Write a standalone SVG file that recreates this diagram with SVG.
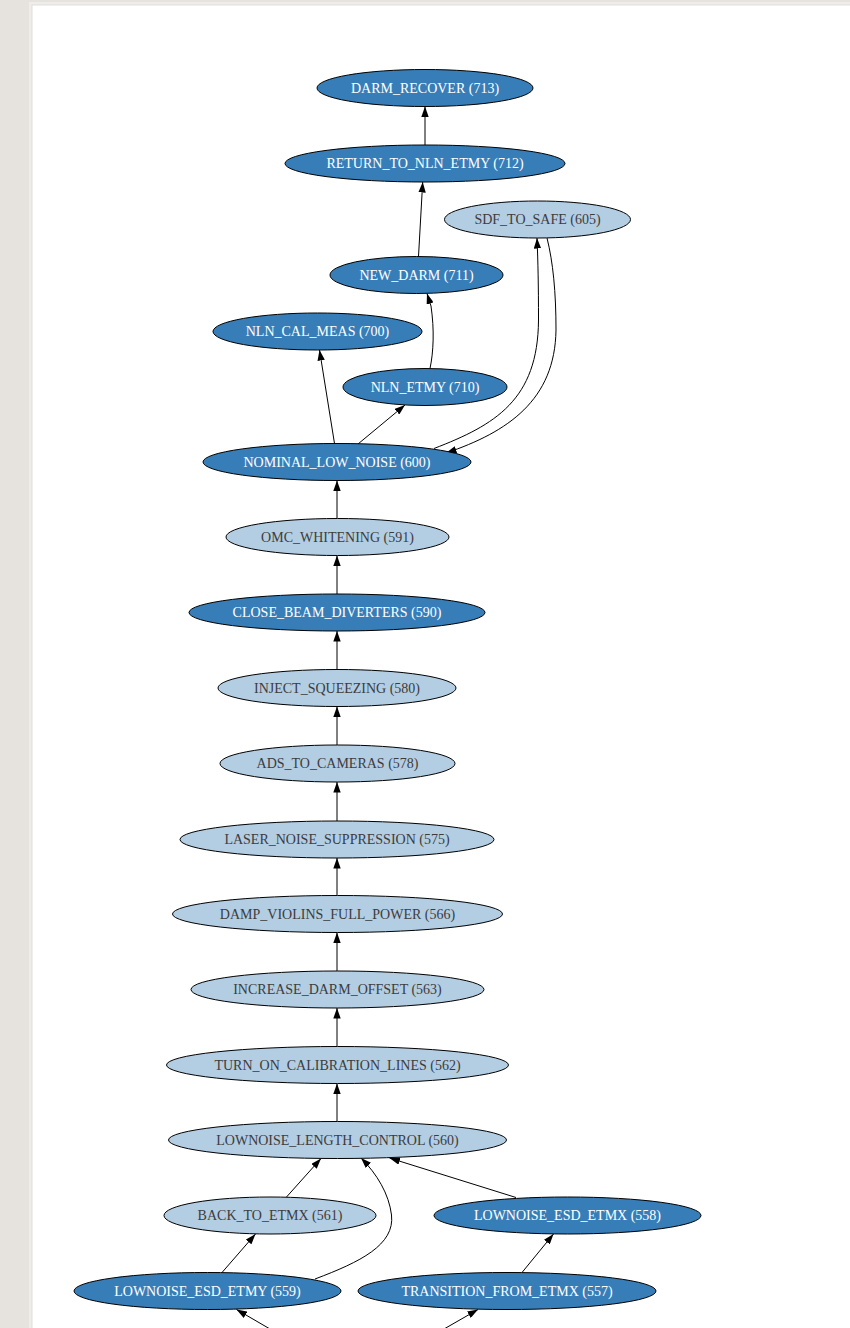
<svg xmlns="http://www.w3.org/2000/svg" width="850" height="1328" viewBox="0 0 850 1328">
<defs>
<style>
.dk{fill:#377eb8;stroke:#000;stroke-width:1}
.lt{fill:#b3cde3;stroke:#000;stroke-width:1}
.tw{font-family:"Liberation Serif","Times New Roman",serif;font-size:14px;fill:#ffffff;text-anchor:middle}
.tg{font-family:"Liberation Serif","Times New Roman",serif;font-size:14px;fill:#3c3c3c;text-anchor:middle}
.e{fill:none;stroke:#000;stroke-width:1}
</style>
<marker id="arr" viewBox="0 0 10.5 7.4" refX="10.5" refY="3.7" markerWidth="10.5" markerHeight="7.4" markerUnits="userSpaceOnUse" orient="auto">
<path d="M0,0 L10.5,3.7 L0,7.4 z" fill="#000"/>
</marker>
</defs>
<rect x="0" y="0" width="850" height="1328" fill="#e6e3df"/>
<rect x="29" y="2" width="830" height="1340" fill="#efedea"/>
<rect x="32" y="5" width="830" height="1340" fill="#ffffff" stroke="#e0dedb" stroke-width="1"/>

<g id="connectors">
<path class="e" marker-end="url(#arr)" d="M425,145 L425,106.5"/>
<path class="e" marker-end="url(#arr)" d="M418.5,256.5 L422.7,182"/>
<path class="e" marker-end="url(#arr)" d="M430,368.5 C433.5,352 434.5,330 431,306 L427,293.5"/>
<path class="e" marker-end="url(#arr)" d="M334.5,443.5 L319.5,350"/>
<path class="e" marker-end="url(#arr)" d="M358,444 L405,405"/>
<path class="e" marker-end="url(#arr)" d="M434,448.5 C495,425 538,400 538.5,320 C538.5,285 538,262 537,238"/>
<path class="e" marker-end="url(#arr)" d="M547,238 C553,262 556,292 556,330 C555,400 508,432 446,453"/>
<path class="e" marker-end="url(#arr)" d="M337,518.5 L337,480.5"/>
<path class="e" marker-end="url(#arr)" d="M337,594 L337,555.5"/>
<path class="e" marker-end="url(#arr)" d="M337,669.5 L337,631"/>
<path class="e" marker-end="url(#arr)" d="M337,745 L337,706.5"/>
<path class="e" marker-end="url(#arr)" d="M337,821 L337,782"/>
<path class="e" marker-end="url(#arr)" d="M337,895.5 L337,858"/>
<path class="e" marker-end="url(#arr)" d="M337,971 L337,932.5"/>
<path class="e" marker-end="url(#arr)" d="M337,1046.5 L337,1008"/>
<path class="e" marker-end="url(#arr)" d="M337,1121.5 L337,1083.5"/>
<path class="e" marker-end="url(#arr)" d="M286.5,1197 L321,1158.5"/>
<path class="e" marker-end="url(#arr)" d="M315,1279 C360,1262 395,1245 391.5,1215 C389,1194 377,1174 361,1158"/>
<path class="e" marker-end="url(#arr)" d="M516,1197.5 L389.5,1158"/>
<path class="e" marker-end="url(#arr)" d="M222,1272.5 L255.5,1234"/>
<path class="e" marker-end="url(#arr)" d="M522,1272.5 L553.5,1234"/>
<path class="e" marker-end="url(#arr)" d="M270,1329 L236.5,1309.5"/>
<path class="e" marker-end="url(#arr)" d="M444,1329 L478,1309.5"/>
</g>

<g id="n713"><ellipse class="dk" cx="425" cy="88" rx="108" ry="18.5"/><text class="tw" x="425" y="92.5">DARM_RECOVER (713)</text></g>
<g id="n712"><ellipse class="dk" cx="425" cy="163.5" rx="140" ry="18.5"/><text class="tw" x="425" y="168">RETURN_TO_NLN_ETMY (712)</text></g>
<g id="n605"><ellipse class="lt" cx="537.5" cy="219.5" rx="93" ry="18.5"/><text class="tg" x="537.5" y="224">SDF_TO_SAFE (605)</text></g>
<g id="n711"><ellipse class="dk" cx="416.5" cy="275" rx="86.5" ry="18.5"/><text class="tw" x="416.5" y="279.5">NEW_DARM (711)</text></g>
<g id="n700"><ellipse class="dk" cx="317.5" cy="331.5" rx="104.5" ry="18.5"/><text class="tw" x="317.5" y="336">NLN_CAL_MEAS (700)</text></g>
<g id="n710"><ellipse class="dk" cx="425" cy="387" rx="82" ry="18.5"/><text class="tw" x="425" y="391.5">NLN_ETMY (710)</text></g>
<g id="n600"><ellipse class="dk" cx="337" cy="462" rx="134" ry="18.5"/><text class="tw" x="337" y="466.5">NOMINAL_LOW_NOISE (600)</text></g>
<g id="n591"><ellipse class="lt" cx="337.5" cy="537" rx="111.5" ry="18.5"/><text class="tg" x="337.5" y="541.5">OMC_WHITENING (591)</text></g>
<g id="n590"><ellipse class="dk" cx="337" cy="612.5" rx="148" ry="18.5"/><text class="tw" x="337" y="617">CLOSE_BEAM_DIVERTERS (590)</text></g>
<g id="n580"><ellipse class="lt" cx="337" cy="688" rx="119" ry="18.5"/><text class="tg" x="337" y="692.5">INJECT_SQUEEZING (580)</text></g>
<g id="n578"><ellipse class="lt" cx="337.5" cy="763.5" rx="117.5" ry="18.5"/><text class="tg" x="337.5" y="768">ADS_TO_CAMERAS (578)</text></g>
<g id="n575"><ellipse class="lt" cx="337" cy="839.5" rx="157" ry="18.5"/><text class="tg" x="337" y="844">LASER_NOISE_SUPPRESSION (575)</text></g>
<g id="n566"><ellipse class="lt" cx="337.5" cy="914" rx="165" ry="18.5"/><text class="tg" x="337.5" y="918.5">DAMP_VIOLINS_FULL_POWER (566)</text></g>
<g id="n563"><ellipse class="lt" cx="337.5" cy="989.5" rx="146.5" ry="18.5"/><text class="tg" x="337.5" y="994">INCREASE_DARM_OFFSET (563)</text></g>
<g id="n562"><ellipse class="lt" cx="337.5" cy="1065" rx="171" ry="18.5"/><text class="tg" x="337.5" y="1069.5">TURN_ON_CALIBRATION_LINES (562)</text></g>
<g id="n560"><ellipse class="lt" cx="337.5" cy="1140" rx="169" ry="18.5"/><text class="tg" x="337.5" y="1144.5">LOWNOISE_LENGTH_CONTROL (560)</text></g>
<g id="n561"><ellipse class="lt" cx="270" cy="1215.5" rx="106" ry="18.5"/><text class="tg" x="270" y="1220">BACK_TO_ETMX (561)</text></g>
<g id="n558"><ellipse class="dk" cx="567.5" cy="1215.5" rx="133.5" ry="18.5"/><text class="tw" x="567.5" y="1220">LOWNOISE_ESD_ETMX (558)</text></g>
<g id="n559"><ellipse class="dk" cx="207.5" cy="1291" rx="133.5" ry="18.5"/><text class="tw" x="207.5" y="1295.5">LOWNOISE_ESD_ETMY (559)</text></g>
<g id="n557"><ellipse class="dk" cx="507" cy="1291" rx="149" ry="18.5"/><text class="tw" x="507" y="1295.5">TRANSITION_FROM_ETMX (557)</text></g>
</svg>
